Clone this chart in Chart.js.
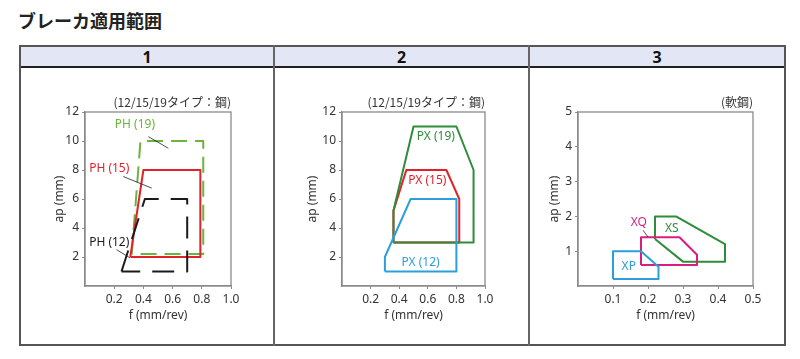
<!DOCTYPE html>
<html><head><meta charset="utf-8">
<script src="https://cdn.jsdelivr.net/npm/chart.js@4"></script>
<style>
html,body{margin:0;padding:0;background:#fff;width:800px;height:359px;overflow:hidden;position:relative;}
#title{position:absolute;left:18px;top:8px;font:bold 18px "Noto Sans CJK JP";color:#222;line-height:24px;white-space:nowrap;}
.hdr{position:absolute;top:45px;height:22px;background:#e3e6f4;}
.hline{position:absolute;height:2px;}
.vline{position:absolute;width:2px;}
.htxt{position:absolute;top:46px;height:21px;line-height:21px;text-align:center;font:bold condensed 16px "Liberation Sans Narrow","Noto Sans",sans-serif;color:#111;}
canvas{position:absolute;}
</style></head>
<body>
<div id="title">ブレーカ適用範囲</div>
<div class="hdr" style="left:19px;width:765px;"></div>
<div class="hline" style="left:19px;width:767px;top:45px;background:#555;"></div>
<div class="hline" style="left:19px;width:767px;top:66px;background:#222;"></div>
<div class="hline" style="left:19px;width:767px;top:344px;background:#555;"></div>
<div class="vline" style="left:19px;top:45px;height:301px;background:#555;"></div>
<div class="vline" style="left:273px;top:45px;height:301px;background:#666;"></div>
<div class="vline" style="left:528px;top:45px;height:301px;background:#666;"></div>
<div class="vline" style="left:784px;top:45px;height:301px;background:#555;"></div>
<div class="htxt" style="left:21px;width:252px;">1</div>
<div class="htxt" style="left:275px;width:253px;">2</div>
<div class="htxt" style="left:530px;width:254px;">3</div>
<canvas id="c1" width="253" height="277" style="left:21px;top:67px;"></canvas>
<canvas id="c2" width="253" height="277" style="left:275px;top:67px;"></canvas>
<canvas id="c3" width="254" height="277" style="left:530px;top:67px;"></canvas>
<script>
// ---------- data ----------
// Panel 1 (12/15/19 type: steel) - PH breakers
const p1XTicks = ['0.2','0.4','0.6','0.8','1.0'];
const p1YTicks = ['2','4','6','8','10','12'];
const ph19F = [0.32, 0.38, 0.81, 0.81];
const ph19Ap = [2.2, 10, 10, 2.2];
const ph15F = [0.31, 0.40, 0.79, 0.79];
const ph15Ap = [2, 8, 8, 2];
const ph12F = [0.25, 0.41, 0.70, 0.70];
const ph12Ap = [1, 6, 6, 1];
const p1LabelText = ['PH (19)', 'PH (15)', 'PH (12)'];
const p1LabelF = [0.342, 0.166, 0.166];
const p1LabelAp = [11.1, 8.13, 2.97];
const p1LeaderF = [[0.434, 0.571], [0.262, 0.457], [0.216, 0.308]];
const p1LeaderAp = [[10.3, 9.5], [7.55, 6.75], [2.51, 1.94]];

// Panel 2 (12/15/19 type: steel) - PX breakers
const p2XTicks = ['0.2','0.4','0.6','0.8','1.0'];
const p2YTicks = ['2','4','6','8','10','12'];
const px19F = [0.36, 0.36, 0.50, 0.80, 0.92, 0.92];
const px19Ap = [3, 5.2, 11, 11, 8, 3];
const px15F = [0.36, 0.36, 0.45, 0.73, 0.82, 0.82];
const px15Ap = [3, 5.2, 8, 8, 6, 3];
const px12F = [0.30, 0.30, 0.48, 0.80, 0.80];
const px12Ap = [1, 2, 6, 6, 1];
const p2LabelText = ['PX (19)', 'PX (15)', 'PX (12)'];
const p2LabelF = [0.656, 0.597, 0.55];
const p2LabelAp = [10.3, 7.28, 1.61];

// Panel 3 (mild steel) - XP / XQ / XS
const p3XTicks = ['0.1','0.2','0.3','0.4','0.5'];
const p3YTicks = ['1','2','3','4','5'];
const xpF = [0.10, 0.10, 0.18, 0.23, 0.23];
const xpAp = [0.2, 1.0, 1.0, 0.55, 0.2];
const xqF = [0.18, 0.18, 0.29, 0.34, 0.34];
const xqAp = [0.6, 1.4, 1.4, 0.9, 0.6];
const xsF = [0.22, 0.22, 0.28, 0.42, 0.42, 0.30];
const xsAp = [1.35, 2.0, 2.0, 1.2, 0.7, 0.7];
const p3LabelText = ['XP', 'XQ', 'XS'];
const p3LabelF = [0.145, 0.174, 0.268];
const p3LabelAp = [0.57, 1.82, 1.65];
const p3LeaderF = [[0.186, 0.200]];
const p3LeaderAp = [[1.60, 1.405]];

// ---------- styles ----------
const NARROW = '"Liberation Sans Narrow","Noto Sans",sans-serif';
const C_LGREEN = '#6cb33f', C_RED = '#e2222b', C_BLACK = '#1a1a1a',
      C_GREEN = '#2f8c3b', C_BLUE = '#2b9fd9', C_MAG = '#d61f80';

function poly(fs, aps) {
  const pts = fs.map((f, i) => ({x: f, y: aps[i]}));
  pts.push({x: fs[0], y: aps[0]});
  return pts;
}
function shape(fs, aps, color, dash) {
  return {data: poly(fs, aps), borderColor: color, borderWidth: 2, borderDash: dash || [],
          pointRadius: 0, showLine: true, fill: false, tension: 0, borderJoinStyle: 'round', borderCapStyle: 'butt'};
}
function leader(fs, aps) {
  return {data: fs.map((f, i) => ({x: f, y: aps[i]})), borderColor: '#222', borderWidth: 0.8,
          pointRadius: 0, showLine: true, fill: false};
}

const annot = {
  id: 'annot',
  beforeDatasetsDraw(chart, args, o) {
    const a = chart.chartArea, ctx = chart.ctx;
    ctx.save();
    ctx.strokeStyle = '#8a8a8a'; ctx.lineWidth = 1.3;
    ctx.strokeRect(a.left, a.top, a.right - a.left, a.bottom - a.top);
    ctx.restore();
  },
  afterDatasetsDraw(chart, args, o) {
    const {ctx, chartArea: a} = chart;
    const xs = chart.scales.x, ys = chart.scales.y;
    ctx.save();
    ctx.textBaseline = 'middle';
    ctx.textAlign = 'center';
    ctx.font = 'condensed 12px ' + NARROW;
    o.text.forEach((t, i) => {
      ctx.fillStyle = o.colors[i];
      ctx.fillText(t, xs.getPixelForValue(o.f[i]), ys.getPixelForValue(o.ap[i]));
    });
    ctx.textAlign = 'right';
    ctx.fillStyle = '#333';
    ctx.font = '12px "Noto Sans CJK JP"';
    ctx.fillText(o.subtitle, a.right, a.top - 10);
    ctx.restore();
  }
};

const tickColor = c => c.index === 0 ? 'rgba(0,0,0,0)' : '#8a8a8a';

function makeChart(id, cfg) {
  const tickFont = {family: NARROW, size: 12, style: 'condensed'};
  new Chart(document.getElementById(id), {
    type: 'scatter',
    data: {datasets: cfg.datasets},
    options: {
      responsive: false, animation: false, devicePixelRatio: 1,
      layout: {padding: cfg.padding},
      plugins: {legend: {display: false}, tooltip: {enabled: false}, annot: cfg.annot},
      scales: {
        x: {
          type: 'linear', min: 0, max: cfg.xMax,
          ticks: {stepSize: cfg.xStep, autoSkip: false, maxRotation: 0, font: tickFont, color: '#333', padding: 3,
                  callback: (v, i) => i === 0 ? '' : cfg.xTicks[i - 1]},
          grid: {display: true, drawOnChartArea: false, drawTicks: true, tickLength: 3, color: tickColor},
          border: {display: true, color: '#8a8a8a', width: 1.3},
          title: {display: true, text: 'f (mm/rev)', font: tickFont, color: '#333', padding: {top: 4, bottom: 4}},
          afterFit: s => { s.height = cfg.xH; }
        },
        y: {
          type: 'linear', min: 0, max: cfg.yMax,
          ticks: {stepSize: cfg.yStep, autoSkip: false, font: tickFont, color: '#333', padding: 3,
                  callback: (v, i) => i === 0 ? '' : cfg.yTicks[i - 1]},
          grid: {display: true, drawOnChartArea: false, drawTicks: true, tickLength: 3, color: tickColor},
          border: {display: true, color: '#8a8a8a', width: 1.3},
          title: {display: true, text: 'ap (mm)', font: tickFont, color: '#333', padding: {top: 4, bottom: 4}},
          afterFit: s => { s.width = cfg.yW; }
        }
      }
    },
    plugins: [annot]
  });
}

// Panel 1
makeChart('c1', {
  xMax: 1.0, xStep: 0.2, yMax: 12, yStep: 2, xTicks: p1XTicks, yTicks: p1YTicks,
  padding: {left: 27, right: 43, top: 45, bottom: 17}, yW: 37, xH: 41,
  datasets: [
    leader(p1LeaderF[0], p1LeaderAp[0]),
    leader(p1LeaderF[1], p1LeaderAp[1]),
    leader(p1LeaderF[2], p1LeaderAp[2]),
    shape(ph12F, ph12Ap, C_BLACK, [22, 12]),
    shape(ph15F, ph15Ap, C_RED),
    shape(ph19F, ph19Ap, C_LGREEN, [16, 8])
  ],
  annot: {text: p1LabelText, f: p1LabelF, ap: p1LabelAp, colors: [C_LGREEN, C_RED, C_BLACK],
          subtitle: '(12/15/19タイプ：鋼)'}
});

// Panel 2
makeChart('c2', {
  xMax: 1.0, xStep: 0.2, yMax: 12, yStep: 2, xTicks: p2XTicks, yTicks: p2YTicks,
  padding: {left: 26, right: 43, top: 45, bottom: 17}, yW: 41, xH: 41,
  datasets: [
    shape(px12F, px12Ap, C_BLUE),
    shape(px19F, px19Ap, C_GREEN),
    shape(px15F, px15Ap, C_RED)
  ],
  annot: {text: p2LabelText, f: p2LabelF, ap: p2LabelAp, colors: [C_GREEN, C_RED, C_BLUE],
          subtitle: '(12/15/19タイプ：鋼)'}
});

// Panel 3
makeChart('c3', {
  xMax: 0.5, xStep: 0.1, yMax: 5, yStep: 1, xTicks: p3XTicks, yTicks: p3YTicks,
  padding: {left: 13, right: 31, top: 45, bottom: 17}, yW: 35, xH: 41,
  datasets: [
    leader(p3LeaderF[0], p3LeaderAp[0]),
    shape(xpF, xpAp, C_BLUE),
    shape(xqF, xqAp, C_MAG),
    shape(xsF, xsAp, C_GREEN)
  ],
  annot: {text: p3LabelText, f: p3LabelF, ap: p3LabelAp, colors: [C_BLUE, C_MAG, C_GREEN],
          subtitle: '(軟鋼)'}
});
</script>
</body></html>
